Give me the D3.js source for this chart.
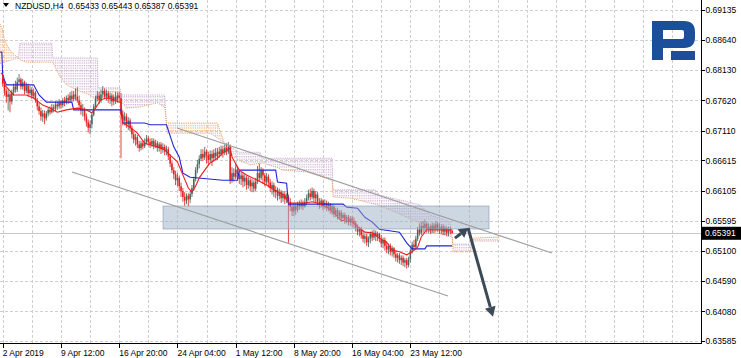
<!DOCTYPE html>
<html>
<head>
<meta charset="utf-8">
<script src="https://cdn.jsdelivr.net/npm/d3@7"></script>
<style>
  body { margin: 0; background: #fff; }
  svg { display: block; font-family: "Liberation Sans", Arial, sans-serif; }
  .axis text { font-size: 8.5px; fill: #000; }
  .axis line { stroke: #000; shape-rendering: crispEdges; }
  .grid line { stroke: #cfcfcf; stroke-dasharray: 3,2; shape-rendering: crispEdges; }
</style>
</head>
<body>
<svg id="chart"></svg>
<script>
const W = 741;
const H = 358;
const plotRight = 701;
const plotBottom = 343;

const symbol = 'NZDUSD,H4';
const lastQuote = [0.65433, 0.65443, 0.65387, 0.65391];

// H4 candles, one entry per bar (open = previous close)
const firstOpen = 0.6800;
const closes = [
  0.6790, 0.6778, 0.6768, 0.6772, 0.6760, 0.6775, 0.6785, 0.6780, 0.6793, 0.6797,
  0.6785, 0.6792, 0.6778, 0.6786, 0.6774, 0.6780, 0.6770, 0.6775, 0.6762, 0.6752,
  0.6744, 0.6735, 0.6740, 0.6732, 0.6740, 0.6746, 0.6742, 0.6750, 0.6748, 0.6755,
  0.6752, 0.6758, 0.6754, 0.6762, 0.6758, 0.6766, 0.6762, 0.6770, 0.6764, 0.6772,
  0.6768, 0.6762, 0.6754, 0.6745, 0.6748, 0.6735, 0.6725, 0.6716, 0.6722, 0.6738,
  0.6752, 0.6765, 0.6770, 0.6762, 0.6772, 0.6778, 0.6768, 0.6774, 0.6765, 0.6770,
  0.6760, 0.6768, 0.6762, 0.6770, 0.6766, 0.6738, 0.6728, 0.6735, 0.6722, 0.6728,
  0.6715, 0.6705, 0.6696, 0.6700, 0.6688, 0.6682, 0.6690, 0.6685, 0.6692, 0.6698,
  0.6692, 0.6688, 0.6694, 0.6686, 0.6690, 0.6682, 0.6688, 0.6680, 0.6684, 0.6676,
  0.6680, 0.6668, 0.6656, 0.6645, 0.6638, 0.6628, 0.6632, 0.6618, 0.6610, 0.6600,
  0.6594, 0.6602, 0.6596, 0.6605, 0.6615, 0.6630, 0.6645, 0.6655, 0.6664, 0.6672,
  0.6666, 0.6676, 0.6670, 0.6662, 0.6672, 0.6665, 0.6674, 0.6668, 0.6676, 0.6672,
  0.6680, 0.6674, 0.6682, 0.6676, 0.6684, 0.6628, 0.6640, 0.6634, 0.6646, 0.6638,
  0.6630, 0.6636, 0.6626, 0.6632, 0.6620, 0.6628, 0.6618, 0.6624, 0.6614, 0.6626,
  0.6640, 0.6632, 0.6645, 0.6636, 0.6626, 0.6634, 0.6624, 0.6615, 0.6620, 0.6608,
  0.6612, 0.6602, 0.6608, 0.6598, 0.6604, 0.6596, 0.6600, 0.6592, 0.6584, 0.6576,
  0.6585, 0.6578, 0.6588, 0.6584, 0.6590, 0.6584, 0.6592, 0.6598, 0.6606, 0.6600,
  0.6610, 0.6598, 0.6604, 0.6592, 0.6588, 0.6594, 0.6586, 0.6590, 0.6582, 0.6588,
  0.6578, 0.6584, 0.6572, 0.6578, 0.6568, 0.6574, 0.6565, 0.6570, 0.6562, 0.6566,
  0.6558, 0.6564, 0.6560, 0.6556, 0.6548, 0.6542, 0.6546, 0.6536, 0.6530, 0.6534,
  0.6524, 0.6530, 0.6538, 0.6532, 0.6540, 0.6534, 0.6538, 0.6530, 0.6522, 0.6528,
  0.6518, 0.6512, 0.6518, 0.6508, 0.6514, 0.6504, 0.6498, 0.6502, 0.6494, 0.6498,
  0.6490, 0.6494, 0.6486, 0.6496, 0.6510, 0.6520, 0.6516, 0.6530, 0.6545, 0.6540,
  0.6552, 0.6548, 0.6555, 0.6546, 0.6550, 0.6544, 0.6552, 0.6546, 0.6554, 0.6548,
  0.6544, 0.6550, 0.6542, 0.6548, 0.6540, 0.6546, 0.65433, 0.65391,
];
const highs = [
  0.6805, 0.6795, 0.6782, 0.6780, 0.6776, 0.6780, 0.6790, 0.6795, 0.6800, 0.6806,
  0.6800, 0.6798, 0.6795, 0.6792, 0.6790, 0.6786, 0.6784, 0.6782, 0.6778, 0.6766,
  0.6758, 0.6750, 0.6746, 0.6745, 0.6744, 0.6750, 0.6752, 0.6756, 0.6755, 0.6760,
  0.6760, 0.6764, 0.6762, 0.6766, 0.6768, 0.6770, 0.6772, 0.6776, 0.6778, 0.6778,
  0.6782, 0.6784, 0.6770, 0.6760, 0.6756, 0.6750, 0.6740, 0.6730, 0.6728, 0.6742,
  0.6756, 0.6770, 0.6778, 0.6776, 0.6780, 0.6786, 0.6782, 0.6780, 0.6778, 0.6775,
  0.6774, 0.6772, 0.6776, 0.6775, 0.6776, 0.6774, 0.6745, 0.6742, 0.6740, 0.6734,
  0.6732, 0.6720, 0.6710, 0.6706, 0.6704, 0.6694, 0.6694, 0.6695, 0.6698, 0.6704,
  0.6702, 0.6698, 0.6699, 0.6698, 0.6696, 0.6694, 0.6692, 0.6692, 0.6690, 0.6688,
  0.6686, 0.6684, 0.6672, 0.6660, 0.6650, 0.6644, 0.6640, 0.6636, 0.6624, 0.6615,
  0.6608, 0.6606, 0.6606, 0.6610, 0.6620, 0.6634, 0.6650, 0.6662, 0.6670, 0.6680,
  0.6680, 0.6684, 0.6680, 0.6676, 0.6678, 0.6678, 0.6680, 0.6682, 0.6682, 0.6684,
  0.6686, 0.6686, 0.6688, 0.6690, 0.6692, 0.6688, 0.6650, 0.6648, 0.6655, 0.6652,
  0.6644, 0.6642, 0.6640, 0.6638, 0.6636, 0.6634, 0.6632, 0.6630, 0.6628, 0.6632,
  0.6652, 0.6656, 0.6650, 0.6648, 0.6640, 0.6640, 0.6638, 0.6630, 0.6626, 0.6624,
  0.6618, 0.6616, 0.6614, 0.6612, 0.6610, 0.6610, 0.6606, 0.6604, 0.6598, 0.6590,
  0.6590, 0.6590, 0.6592, 0.6594, 0.6596, 0.6594, 0.6598, 0.6604, 0.6612, 0.6614,
  0.6616, 0.6614, 0.6610, 0.6608, 0.6598, 0.6598, 0.6596, 0.6596, 0.6594, 0.6592,
  0.6590, 0.6588, 0.6586, 0.6582, 0.6582, 0.6578, 0.6578, 0.6574, 0.6574, 0.6570,
  0.6570, 0.6568, 0.6568, 0.6566, 0.6560, 0.6554, 0.6550, 0.6550, 0.6544, 0.6538,
  0.6538, 0.6534, 0.6542, 0.6544, 0.6545, 0.6544, 0.6542, 0.6540, 0.6536, 0.6532,
  0.6532, 0.6526, 0.6522, 0.6522, 0.6518, 0.6516, 0.6510, 0.6506, 0.6506, 0.6502,
  0.6502, 0.6498, 0.6498, 0.6500, 0.6514, 0.6525, 0.6528, 0.6535, 0.6550, 0.6556,
  0.6558, 0.6560, 0.6562, 0.6558, 0.6556, 0.6554, 0.6557, 0.6556, 0.6560, 0.6558,
  0.6556, 0.6554, 0.6554, 0.6552, 0.6550, 0.6550, 0.6550, 0.65443,
];
const lows = [
  0.6785, 0.6770, 0.6758, 0.6745, 0.6742, 0.6755, 0.6770, 0.6775, 0.6776, 0.6788,
  0.6780, 0.6780, 0.6772, 0.6774, 0.6768, 0.6770, 0.6764, 0.6766, 0.6758, 0.6745,
  0.6738, 0.6728, 0.6726, 0.6722, 0.6728, 0.6735, 0.6738, 0.6740, 0.6742, 0.6744,
  0.6746, 0.6748, 0.6748, 0.6750, 0.6752, 0.6755, 0.6756, 0.6758, 0.6760, 0.6760,
  0.6762, 0.6758, 0.6748, 0.6738, 0.6735, 0.6728, 0.6718, 0.6708, 0.6705, 0.6715,
  0.6735, 0.6748, 0.6760, 0.6756, 0.6758, 0.6766, 0.6764, 0.6762, 0.6758, 0.6756,
  0.6752, 0.6754, 0.6756, 0.6758, 0.6760, 0.6665, 0.6720, 0.6720, 0.6716, 0.6712,
  0.6710, 0.6698, 0.6690, 0.6686, 0.6682, 0.6676, 0.6678, 0.6680, 0.6682, 0.6688,
  0.6686, 0.6682, 0.6684, 0.6680, 0.6682, 0.6676, 0.6676, 0.6672, 0.6674, 0.6670,
  0.6670, 0.6662, 0.6650, 0.6640, 0.6630, 0.6620, 0.6618, 0.6610, 0.6600, 0.6592,
  0.6585, 0.6588, 0.6584, 0.6590, 0.6600, 0.6610, 0.6626, 0.6640, 0.6648, 0.6660,
  0.6660, 0.6662, 0.6656, 0.6654, 0.6658, 0.6652, 0.6660, 0.6662, 0.6662, 0.6666,
  0.6668, 0.6666, 0.6670, 0.6670, 0.6672, 0.6622, 0.6624, 0.6626, 0.6630, 0.6630,
  0.6622, 0.6620, 0.6616, 0.6618, 0.6612, 0.6614, 0.6610, 0.6608, 0.6608, 0.6610,
  0.6622, 0.6626, 0.6628, 0.6622, 0.6618, 0.6620, 0.6616, 0.6608, 0.6604, 0.6600,
  0.6598, 0.6594, 0.6596, 0.6590, 0.6592, 0.6588, 0.6590, 0.6523, 0.6576, 0.6568,
  0.6568, 0.6570, 0.6574, 0.6578, 0.6580, 0.6578, 0.6582, 0.6586, 0.6594, 0.6594,
  0.6596, 0.6592, 0.6590, 0.6586, 0.6580, 0.6582, 0.6578, 0.6580, 0.6576, 0.6576,
  0.6572, 0.6570, 0.6566, 0.6566, 0.6562, 0.6562, 0.6558, 0.6560, 0.6555, 0.6556,
  0.6552, 0.6552, 0.6550, 0.6548, 0.6542, 0.6536, 0.6534, 0.6530, 0.6524, 0.6522,
  0.6518, 0.6516, 0.6522, 0.6526, 0.6528, 0.6526, 0.6526, 0.6524, 0.6516, 0.6514,
  0.6510, 0.6506, 0.6504, 0.6502, 0.6500, 0.6498, 0.6492, 0.6490, 0.6488, 0.6486,
  0.6484, 0.6482, 0.6480, 0.6482, 0.6490, 0.6505, 0.6510, 0.6512, 0.6526, 0.6535,
  0.6536, 0.6540, 0.6542, 0.6540, 0.6540, 0.6538, 0.6540, 0.6540, 0.6542, 0.6542,
  0.6538, 0.6538, 0.6536, 0.6536, 0.6534, 0.6534, 0.6538, 0.65387,
];

// time axis: bar index -> label
const timeTicks = [0, 32, 64, 96, 128, 160, 192, 224];
const timeLabels = ['2 Apr 2019', '9 Apr 12:00', '16 Apr 20:00', '24 Apr 04:00',
  '1 May 12:00', '8 May 20:00', '16 May 04:00', '23 May 12:00'];
const gridBars = d3.range(0, 369, 16);
const priceTicks = [0.69135, 0.68640, 0.68130, 0.67620, 0.67110, 0.66615,
  0.66105, 0.65595, 0.65100, 0.64590, 0.64080, 0.63585];

// ichimoku lines, [bar, price] vertices
const tenkan = [[-1, 0.6808], [0, 0.6805], [1, 0.6788], [6, 0.6771], [13, 0.6771], [17, 0.6766],
  [22, 0.6754], [26, 0.6749], [30, 0.6742], [35, 0.6746], [41, 0.6749], [46, 0.6746], [49, 0.6741],
  [51, 0.6749], [54, 0.6763], [57, 0.6766], [61, 0.6763], [64, 0.6759], [65, 0.6759], [66, 0.6724],
  [70, 0.6717], [74, 0.6707], [78, 0.6690], [85, 0.6684], [89, 0.6679], [92, 0.6670], [96, 0.6659],
  [99, 0.6637], [102, 0.6615], [104, 0.6608], [106, 0.6618], [108, 0.6632], [111, 0.6645],
  [114, 0.6657], [118, 0.6665], [121, 0.6674], [125, 0.6682], [126, 0.6667], [130, 0.6645],
  [134, 0.6637], [140, 0.6628], [145, 0.6620], [149, 0.6612], [155, 0.6603], [157, 0.6590],
  [166, 0.6590], [170, 0.6592], [173, 0.6590], [179, 0.6581], [183, 0.6570], [186, 0.6561],
  [192, 0.6558], [195, 0.6550], [199, 0.6541], [203, 0.6540], [207, 0.6531], [211, 0.6524],
  [214, 0.6511], [218, 0.6508], [222, 0.6503], [225, 0.6508], [228, 0.6516], [230, 0.6533],
  [233, 0.6545], [247, 0.6545]];
const kijun = [[-1.5, 0.6843], [-0.5, 0.6843], [0, 0.6805], [1, 0.6796], [2, 0.6788], [17, 0.6788],
  [20, 0.6771], [24, 0.6759], [38, 0.6759], [39, 0.6746], [65, 0.6746], [66, 0.6724], [78, 0.6724],
  [81, 0.6721], [90, 0.6721], [94, 0.6684], [97, 0.6667], [99, 0.6640], [103, 0.6633], [121, 0.6628],
  [129, 0.6628], [130, 0.6645], [150, 0.6645], [151, 0.6625], [156, 0.6623], [157, 0.6588],
  [187, 0.6588], [189, 0.6583], [195, 0.6581], [199, 0.6566], [203, 0.6558], [207, 0.6546],
  [218, 0.6541], [222, 0.6523], [225, 0.6513], [232, 0.6513], [233, 0.6518], [247, 0.6518]];
const spanA = [[-1.5, 0.6890], [0, 0.6880], [1, 0.6863], [4, 0.6846], [9.5, 0.6830], [13, 0.6826],
  [27.5, 0.6826], [31.5, 0.6801], [35, 0.6788], [41, 0.6779], [48, 0.6771], [51, 0.6763],
  [53.5, 0.6776], [63, 0.6776], [64.5, 0.6763], [68, 0.6749], [75.5, 0.6751], [85, 0.6758],
  [89, 0.6751], [90, 0.6724], [118, 0.6724], [123, 0.6679], [129, 0.6662], [136, 0.6654],
  [143, 0.6657], [151, 0.6649], [154, 0.6645], [167, 0.6642], [176, 0.6633], [181, 0.6628],
  [181.5, 0.6600], [191, 0.6598], [206, 0.6587], [217, 0.6573], [225.5, 0.6561], [231, 0.6556],
  [235, 0.6541], [244, 0.6536], [247, 0.6533], [247.5, 0.6508], [257, 0.6508], [258.5, 0.6531],
  [273, 0.6533]];
const spanB = [[-1.5, 0.6824], [0, 0.6825], [8.4, 0.6833], [9.5, 0.6858], [27, 0.6858],
  [27.6, 0.6833], [52, 0.6833], [52.4, 0.6783], [64.5, 0.6783], [65, 0.6771], [89, 0.6771],
  [90.3, 0.6707], [114, 0.6707], [125, 0.6684], [130, 0.6675], [141.4, 0.6675], [142.5, 0.6665],
  [181, 0.6665], [181.5, 0.6612], [204.6, 0.6612], [207.3, 0.6603], [229.3, 0.6587],
  [234.8, 0.6570], [245.8, 0.6558], [247.4, 0.6521], [256.8, 0.6521], [258.4, 0.6526],
  [273, 0.6526]];

// drawn objects
const channelUpper = [[95.8, 0.67156], [301.8, 0.65060]];
const channelLower = [[38.1, 0.66419], [244.7, 0.64339]];
const zone = { from: 88.1, to: 267.2, top: 0.65848, bottom: 0.65463 };
const arrowUp = [[248.5, 0.6531], [255.7, 0.6548]];
const arrowDown = [[255.7, 0.6548], [269.4, 0.6399]];

const x = d3.scaleLinear().domain([-1.48, 383.7]).range([0, plotRight]);
const y = d3.scaleLinear().domain([0.63585, 0.69135]).range([341, 10]);
const barStep = x(1) - x(0);

const svg = d3.select('#chart').attr('width', W).attr('height', H);
svg.append('rect').attr('width', W).attr('height', H).attr('fill', '#fff');
const defs = svg.append('defs');

defs.append('clipPath').attr('id', 'plot')
  .append('rect').attr('width', plotRight).attr('height', plotBottom);

function hatch(id, color) {
  const p = defs.append('pattern').attr('id', id)
    .attr('patternUnits', 'userSpaceOnUse')
    .attr('x', x(0) - 0.5)
    .attr('width', barStep).attr('height', 2.6);
  p.append('rect').attr('width', 1).attr('height', 1.3).attr('fill', color);
}
hatch('kumoDown', '#cdb0d2');
hatch('kumoUp', '#f2b27c');

const above = d3.area().x(d => x(d[0])).y0(0).y1(d => y(d[1]));
const below = d3.area().x(d => x(d[0])).y0(d => y(d[1])).y1(plotBottom);
[['aboveA', above, spanA], ['belowA', below, spanA],
  ['aboveB', above, spanB], ['belowB', below, spanB]].forEach(([id, gen, pts]) => {
  defs.append('clipPath').attr('id', id).append('path').attr('d', gen(pts));
});

// ===========================================================================
//      grid
// ===========================================================================
const grid = svg.append('g').attr('class', 'grid');
grid.selectAll('line.h').data(priceTicks).enter().append('line')
  .attr('class', 'h')
  .attr('x1', 0).attr('x2', plotRight)
  .attr('y1', d => Math.round(y(d)) + 0.5).attr('y2', d => Math.round(y(d)) + 0.5);
grid.selectAll('line.v').data(gridBars).enter().append('line')
  .attr('class', 'v')
  .attr('y1', 0).attr('y2', plotBottom)
  .attr('x1', d => Math.round(x(d)) + 0.5).attr('x2', d => Math.round(x(d)) + 0.5);

const plot = svg.append('g').attr('clip-path', 'url(#plot)');

// ===========================================================================
//      kumo
// ===========================================================================
plot.append('g').attr('clip-path', 'url(#aboveA)')
  .append('rect').attr('clip-path', 'url(#belowB)')
  .attr('width', plotRight).attr('height', plotBottom)
  .attr('fill', 'url(#kumoDown)');
plot.append('g').attr('clip-path', 'url(#belowA)')
  .append('rect').attr('clip-path', 'url(#aboveB)')
  .attr('width', plotRight).attr('height', plotBottom)
  .attr('fill', 'url(#kumoUp)');

const line = d3.line().x(d => x(d[0])).y(d => y(d[1]));
plot.append('path').attr('d', line(spanB))
  .attr('fill', 'none').attr('stroke', '#c7a3cc').attr('stroke-width', 1)
  .attr('stroke-dasharray', '1,1.2');
plot.append('path').attr('d', line(spanA))
  .attr('fill', 'none').attr('stroke', '#ec9a55').attr('stroke-width', 1)
  .attr('stroke-dasharray', '1,1.2');

// bid line
plot.append('line')
  .attr('x1', 0).attr('x2', plotRight)
  .attr('y1', Math.round(y(lastQuote[3])) + 0.5).attr('y2', Math.round(y(lastQuote[3])) + 0.5)
  .attr('stroke', '#c8c8c8');

// ===========================================================================
//      candles
// ===========================================================================
const candles = closes.map((c, i) => ({
  i, o: i ? closes[i - 1] : firstOpen, h: highs[i], l: lows[i], c,
}));
const bull = '#4a665e';
const bear = '#e81e1e';
const cg = plot.append('g');
cg.selectAll('line').data(candles).enter().append('line')
  .attr('x1', d => x(d.i)).attr('x2', d => x(d.i))
  .attr('y1', d => y(d.h)).attr('y2', d => y(d.l))
  .attr('stroke', d => (d.c >= d.o ? bull : bear))
  .attr('stroke-opacity', 0.85)
  .attr('stroke-width', 1);
cg.selectAll('rect').data(candles).enter().append('rect')
  .attr('x', d => x(d.i) - 0.75)
  .attr('width', 1.5)
  .attr('y', d => y(Math.max(d.o, d.c)))
  .attr('height', d => Math.max(0.8, Math.abs(y(d.o) - y(d.c))))
  .attr('fill', d => (d.c >= d.o ? bull : bear));

// tenkan / kijun
plot.append('path').attr('d', line(kijun))
  .attr('fill', 'none').attr('stroke', '#2323d8').attr('stroke-width', 1.1);
plot.append('path').attr('d', line(tenkan))
  .attr('fill', 'none').attr('stroke', '#ec1c1c').attr('stroke-width', 1.1);

// ===========================================================================
//      objects
// ===========================================================================
plot.append('rect')
  .attr('x', x(zone.from)).attr('width', x(zone.to) - x(zone.from))
  .attr('y', y(zone.top)).attr('height', y(zone.bottom) - y(zone.top))
  .attr('fill', 'rgb(155,176,198)').attr('fill-opacity', 0.5)
  .attr('stroke', 'rgb(130,152,178)').attr('stroke-opacity', 0.6);

[channelUpper, channelLower].forEach((c) => {
  plot.append('path').attr('d', line(c))
    .attr('stroke', '#9e9e9e').attr('stroke-width', 1.2).attr('fill', 'none');
});

const arrowColor = '#3b4a56';
function arrow(pts, headLen, headHalf) {
  const [p0, p1] = pts.map(d => [x(d[0]), y(d[1])]);
  const dx = p1[0] - p0[0];
  const dy = p1[1] - p0[1];
  const len = Math.hypot(dx, dy);
  const ux = dx / len;
  const uy = dy / len;
  const bx = p1[0] - ux * headLen;
  const by = p1[1] - uy * headLen;
  plot.append('line')
    .attr('x1', p0[0]).attr('y1', p0[1]).attr('x2', bx).attr('y2', by)
    .attr('stroke', arrowColor).attr('stroke-width', 3);
  plot.append('path')
    .attr('d', `M${p1[0]},${p1[1]} L${bx - uy * headHalf},${by + ux * headHalf} L${bx + uy * headHalf},${by - ux * headHalf} Z`)
    .attr('fill', arrowColor);
}
arrow(arrowDown, 10, 5.5);
arrow(arrowUp, 9, 5.5);

// ===========================================================================
//      axes
// ===========================================================================
const yAxis = d3.axisRight(y).tickValues(priceTicks)
  .tickFormat(d3.format('.5f')).tickSize(3).tickSizeOuter(0).tickPadding(1);
const ya = svg.append('g').attr('class', 'axis')
  .attr('transform', `translate(${plotRight + 0.5},0)`)
  .call(yAxis);
ya.select('.domain').remove();

const xAxis = d3.axisBottom(x).tickValues(timeTicks)
  .tickFormat((d, i) => timeLabels[i]).tickSize(4).tickSizeOuter(0).tickPadding(2);
const xa = svg.append('g').attr('class', 'axis')
  .attr('transform', `translate(0,${plotBottom + 0.5})`)
  .call(xAxis);
xa.select('.domain').remove();
xa.selectAll('text').attr('text-anchor', 'start').attr('x', -0.5);

svg.append('line').attr('x1', plotRight + 0.5).attr('x2', plotRight + 0.5)
  .attr('y1', 0).attr('y2', plotBottom + 1).attr('stroke', '#000');
svg.append('line').attr('x1', 0).attr('x2', plotRight + 1)
  .attr('y1', plotBottom + 0.5).attr('y2', plotBottom + 0.5).attr('stroke', '#000');

// current price tag
const yLast = y(lastQuote[3]);
svg.append('rect').attr('x', plotRight + 1).attr('y', yLast - 6.5)
  .attr('width', W - plotRight - 1).attr('height', 13).attr('fill', '#000');
svg.append('text').attr('x', plotRight + 4).attr('y', yLast + 3)
  .attr('font-size', '8.5px').attr('fill', '#fff')
  .text(d3.format('.5f')(lastQuote[3]));

// title
svg.append('path').attr('d', 'M3,3 L9,3 L6,7 Z').attr('fill', '#000');
svg.append('text').attr('x', 15).attr('y', 9)
  .attr('font-size', '8.5px').attr('fill', '#000')
  .attr('xml:space', 'preserve')
  .text(`${symbol}  ${lastQuote.map(d3.format('.5f')).join(' ')}`);

// logo
const logo = svg.append('g').attr('transform', 'translate(652,21)').attr('fill', '#1b4f9b');
logo.append('rect').attr('width', 11).attr('height', 39);
logo.append('path').attr('fill-rule', 'evenodd')
  .attr('d', 'M0,0 H32 Q43,0 43,11 V16 Q43,27 32,27 H0 Z M11,9 H30 Q32,9 32,11 V16 Q32,18 30,18 H11 Z');
logo.append('rect').attr('x', 19).attr('y', 30).attr('width', 24).attr('height', 9);
</script>
</body>
</html>
